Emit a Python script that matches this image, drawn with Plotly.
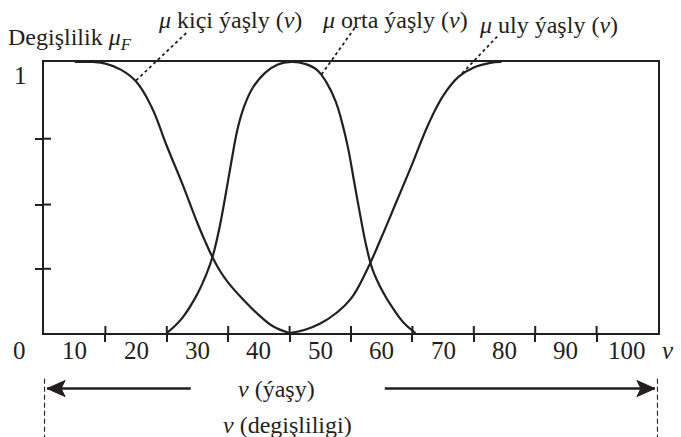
import plotly.graph_objects as go

# Membership curves (age v, degree of membership mu)
kici_v = [10, 13, 15, 17.5, 20, 22.5, 25, 27.5, 30, 31.25, 32.5, 33.75, 35, 37.5, 40, 42.5, 45]
kici_mu = [1.0, 1.0, 0.994, 0.972, 0.928, 0.835, 0.69, 0.552, 0.405, 0.338, 0.277, 0.226, 0.186,
           0.122, 0.066, 0.022, 0.0]

orta_v = [25, 27.5, 30, 31.5, 32.5, 33.5, 34.5, 35.5, 36.5, 37.5, 39, 41, 43, 45.3,
          47.5, 49.5, 51, 52.5, 53.5, 54.5, 55.5, 56.5, 57.5, 58.5, 60, 62, 63.5, 65.5]
orta_mu = [0.0, 0.055, 0.145, 0.22, 0.285, 0.38, 0.50, 0.63, 0.75, 0.83, 0.905, 0.96, 0.99, 1.0,
           0.993, 0.97, 0.925, 0.855, 0.78, 0.685, 0.56, 0.435, 0.32, 0.235, 0.16, 0.085, 0.04, 0.0]

uly_v = [45, 47.5, 50, 52.5, 55, 57.5, 60, 62.5, 65, 67.5, 70, 72.5, 75, 77.5, 79.5]
uly_mu = [0.0, 0.012, 0.035, 0.072, 0.127, 0.228, 0.355, 0.49, 0.625, 0.765, 0.875, 0.945, 0.98, 0.996, 1.0]

# Axis ticks and labels
x_tick_marks = [15, 25, 35, 45, 55, 65, 75, 85, 95]
x_tick_labels = [0, 10, 20, 30, 40, 50, 60, 70, 80, 90, 100]
y_tick_marks = [0.237, 0.474, 0.717]

# Extent of the "v" range arrows (tail, tip)
left_arrow = (28.9, 5.5)
right_arrow = (60.5, 104.5)

INK = "#231f20"
SERIF = "Liberation Serif, Times New Roman, serif"
FONT = dict(family=SERIF, size=24, color=INK)
TICK_FONT = dict(family=SERIF, size=25, color=INK)
X_RANGE = [5, 105]
ARROW_Y = -0.205
TICK_LEN = 7


def xp(v):
    """Data value on the v axis -> paper fraction (for labels outside the axis range)."""
    return (v - X_RANGE[0]) / (X_RANGE[1] - X_RANGE[0])


fig = go.Figure()

for xs, ys in ((kici_v, kici_mu), (orta_v, orta_mu), (uly_v, uly_mu)):
    fig.add_trace(go.Scatter(
        x=xs, y=ys, mode="lines",
        line=dict(color=INK, width=2.2, shape="spline", smoothing=1.2),
        hoverinfo="skip", showlegend=False,
    ))

# Framed plot; the outer half of each tick comes from the axes,
# the inner half is added below as short shapes so the ticks cross the frame.
fig.update_layout(
    width=681, height=437,
    margin=dict(l=44, r=23, t=62, b=104),
    paper_bgcolor="white", plot_bgcolor="white",
    showlegend=False,
    font=FONT,
    xaxis=dict(range=X_RANGE, showgrid=False, zeroline=False,
               showline=True, linecolor=INK, linewidth=2.2, mirror=True,
               tickmode="array", tickvals=x_tick_marks, ticks="outside",
               ticklen=TICK_LEN, tickwidth=2, tickcolor=INK, showticklabels=False),
    yaxis=dict(range=[0, 1], showgrid=False, zeroline=False,
               showline=True, linecolor=INK, linewidth=2.2, mirror=True,
               tickmode="array", tickvals=y_tick_marks, ticks="outside",
               ticklen=TICK_LEN, tickwidth=2, tickcolor=INK, showticklabels=False),
)

annotations = []

# x tick labels, centred between the tick marks
for v in x_tick_labels:
    annotations.append(dict(x=xp(v), y=-0.063, xref="paper", yref="paper", text=str(v),
                            showarrow=False, xanchor="center", yanchor="middle",
                            font=TICK_FONT, xshift=6 if v == 0 else 0))
annotations.append(dict(x=xp(106.6), y=-0.063, xref="paper", yref="paper", text="<i>v</i>",
                        showarrow=False, xanchor="center", yanchor="middle", font=TICK_FONT))
# y label "1"
annotations.append(dict(x=xp(1.1), y=0.952, xref="paper", yref="paper", text="1",
                        showarrow=False, xanchor="center", yanchor="middle", font=TICK_FONT))

# Titles
annotations.append(dict(x=xp(-1.2), y=1.085, xref="paper", yref="paper",
                        text="Degişlilik <i>μ</i><sub><i>F</i></sub>",
                        showarrow=False, xanchor="left", yanchor="middle"))
annotations.append(dict(x=xp(23.3), y=1.155, xref="paper", yref="paper",
                        text="<i>μ</i> kiçi ýaşly (<i>v</i>)",
                        showarrow=False, xanchor="left", yanchor="middle"))
annotations.append(dict(x=xp(49.9), y=1.155, xref="paper", yref="paper",
                        text="<i>μ</i> orta ýaşly (<i>v</i>)",
                        showarrow=False, xanchor="left", yanchor="middle"))
annotations.append(dict(x=xp(75.6), y=1.138, xref="paper", yref="paper",
                        text="<i>μ</i> uly ýaşly (<i>v</i>)",
                        showarrow=False, xanchor="left", yanchor="middle"))

# Labels of the range arrows
annotations.append(dict(x=xp(42.8), y=ARROW_Y, xref="paper", yref="paper",
                        text="<i>v</i> (ýaşy)", showarrow=False,
                        xanchor="center", yanchor="middle"))
annotations.append(dict(x=xp(44.6), y=-0.34, xref="paper", yref="paper",
                        text="<i>v</i> (degişliligi)", showarrow=False,
                        xanchor="center", yanchor="middle"))

fig.update_layout(annotations=annotations)

shapes = []
# Inner halves of the tick marks
for t in x_tick_marks:
    shapes.append(dict(type="line", xref="x", yref="paper", ysizemode="pixel", yanchor=0,
                       x0=t, x1=t, y0=0, y1=TICK_LEN, line=dict(color=INK, width=2)))
for t in y_tick_marks:
    shapes.append(dict(type="line", xref="paper", yref="y", xsizemode="pixel", xanchor=0,
                       x0=0, x1=TICK_LEN, y0=t, y1=t, line=dict(color=INK, width=2)))
# Dotted leaders from the labels to their curves
for x0, y0, x1, y1 in ((20.0, 0.932, 28.45, 1.113),
                       (50.2, 0.954, 55.65, 1.127),
                       (73.1, 0.958, 78.8, 1.094)):
    shapes.append(dict(type="line", xref="x", yref="paper", x0=x0, y0=y0, x1=x1, y1=y1,
                       line=dict(color=INK, width=1.8, dash="3px,3px")))
# Dashed verticals marking the ends of the universe of discourse
for xv in X_RANGE:
    shapes.append(dict(type="line", xref="x", yref="paper", x0=xv, x1=xv,
                       y0=-0.169, y1=-0.39,
                       line=dict(color=INK, width=2.2, dash="5px,3px")))
# Range arrows: shaft in axis units, solid head drawn in pixels at the tip
for tail, tip in (left_arrow, right_arrow):
    direction = 1 if tip > tail else -1
    shapes.append(dict(type="line", xref="x", yref="paper", x0=tail, x1=tip,
                       y0=ARROW_Y, y1=ARROW_Y, line=dict(color=INK, width=2.4)))
    back = -18 * direction
    notch = -14 * direction
    shapes.append(dict(type="path", xref="x", yref="paper",
                       xsizemode="pixel", ysizemode="pixel",
                       xanchor=tip, yanchor=ARROW_Y,
                       path=f"M 0,0 L {back},8 L {notch},0 L {back},-8 Z",
                       fillcolor=INK, line=dict(color=INK, width=1)))
fig.update_layout(shapes=shapes)

fig.write_html("out.html")
